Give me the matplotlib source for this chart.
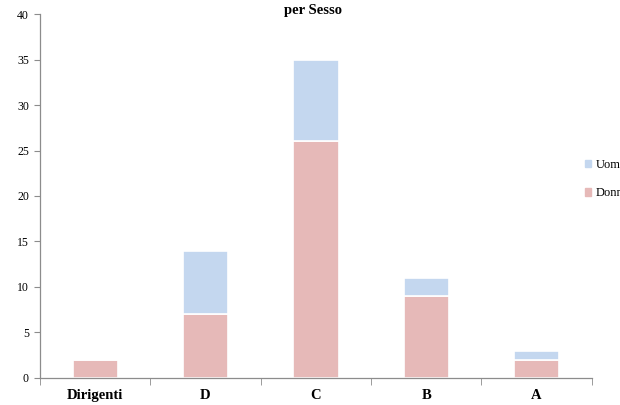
import numpy as np
import matplotlib
matplotlib.use("Agg")
import matplotlib.pyplot as plt
from matplotlib.patches import Patch

categories = ["Dirigenti", "D", "C", "B", "A"]
donne = [2, 7, 26, 9, 2]
uomini = [0, 7, 9, 2, 1]

col_donne = "#E6B9B8"
col_uomini = "#C4D7EF"
grey = "#8C8C8C"

plt.rcParams["font.family"] = ["Liberation Serif", "DejaVu Serif"]

fig = plt.figure(figsize=(6.2, 4.05), dpi=100)
ax = fig.add_axes([0.0645, 0.0667, 0.89, 0.8987])

x = np.arange(len(categories))
w = 0.41
ax.bar(x, donne, w, color=col_donne, edgecolor="white", linewidth=1.2)
ax.bar(x, uomini, w, bottom=donne, color=col_uomini, edgecolor="white", linewidth=1.2)

ax.set_xlim(-0.5, len(categories) - 0.5)
ax.set_ylim(0, 40)
ax.set_yticks(range(0, 41, 5))

for s in ["top", "right"]:
    ax.spines[s].set_visible(False)
for s in ["left", "bottom"]:
    ax.spines[s].set_color(grey)
    ax.spines[s].set_linewidth(0.9)

ax.tick_params(axis="y", direction="out", length=4, color=grey, labelsize=8.5, pad=4)
ax.set_xticks(x)
ax.set_xticklabels(categories, fontsize=10.5, fontweight="bold")
ax.tick_params(axis="x", length=0, pad=8)
ax.set_xticks(np.arange(-0.5, len(categories)), minor=True)
ax.tick_params(axis="x", which="minor", direction="out", length=5, color=grey)

fig.text(0.505, 0.975, "per Sesso", ha="center", va="center", fontsize=10.5, fontweight="bold")

# legend sits against the right edge, labels run off the canvas
handles = [Patch(color=col_uomini, label="Uomini"), Patch(color=col_donne, label="Donne")]
fig.legend(handles=handles, loc="upper left", bbox_to_anchor=(0.943, 0.607), frameon=False,
           borderpad=0, borderaxespad=0, handlelength=0.5, handleheight=0.5,
           handletextpad=0.4, labelspacing=1.3, fontsize=9)

fig.savefig("out.png", dpi=100)
